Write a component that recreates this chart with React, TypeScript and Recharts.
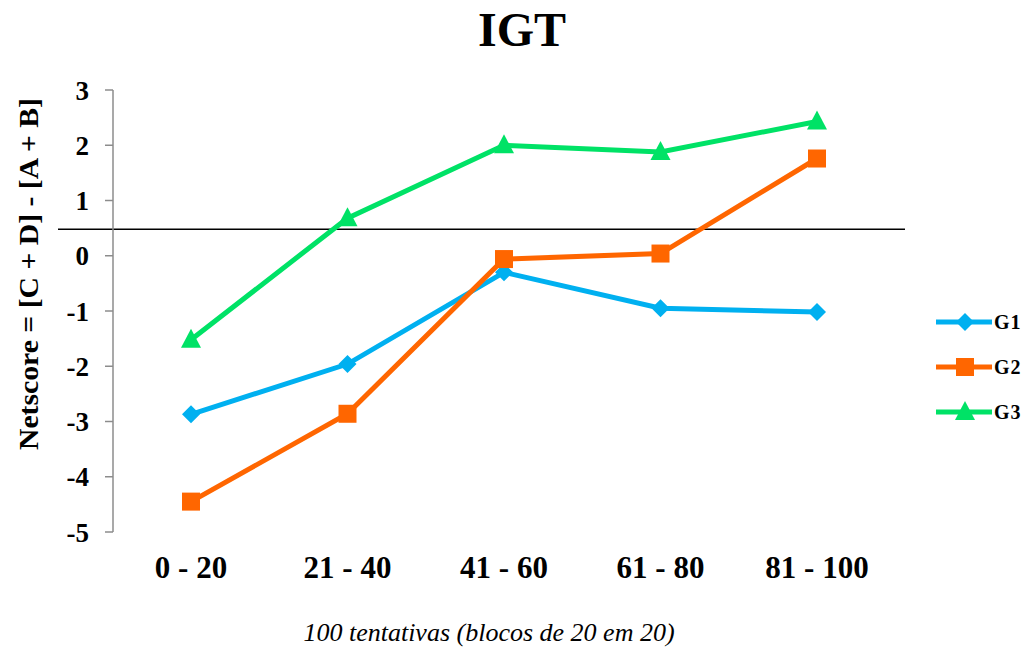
import { LineChart, Line, XAxis, YAxis, ReferenceLine } from "recharts";

const blocks = ["0 - 20", "21 - 40", "41 - 60", "61 - 80", "81 - 100"];
const g1 = [-2.87, -1.96, -0.3, -0.95, -1.02];
const g2 = [-4.45, -2.86, -0.06, 0.04, 1.76];
const g3 = [-1.52, 0.68, 2.0, 1.88, 2.43];
const seriesNames = ["G1", "G2", "G3"];
const yTicks = [-5, -4, -3, -2, -1, 0, 1, 2, 3];
const threshold = 0.48;

const data = blocks.map((b, i) => ({ block: b, G1: g1[i], G2: g2[i], G3: g3[i] }));

const serif = "'Liberation Serif', 'Times New Roman', serif";
const colors: Record<string, string> = { G1: "#00b0f0", G2: "#ff6600", G3: "#00e266" };

function Marker({ kind, cx, cy, fill }: { kind: string; cx: number; cy: number; fill: string }) {
  if (kind === "G1") {
    return <polygon points={`${cx},${cy - 9} ${cx + 9},${cy} ${cx},${cy + 9} ${cx - 9},${cy}`} fill={fill} />;
  }
  if (kind === "G2") {
    return <rect x={cx - 9} y={cy - 9} width={18} height={18} fill={fill} />;
  }
  return <polygon points={`${cx},${cy - 11} ${cx + 10},${cy + 8} ${cx - 10},${cy + 8}`} fill={fill} />;
}

const dotFor = (kind: string) => (props: any) => {
  const { cx, cy, key } = props;
  if (cx == null || cy == null) return <g key={key} />;
  return <Marker key={key} kind={kind} cx={cx} cy={cy} fill={colors[kind]} />;
};

function LegendBox() {
  return (
    <svg width={100} height={140} style={{ position: "absolute", left: 928, top: 300 }}>
      {seriesNames.map((name, i) => {
        const y = 22 + i * 45;
        return (
          <g key={name}>
            <line x1={8} x2={64} y1={y} y2={y} stroke={colors[name]} strokeWidth={5} />
            <Marker kind={name} cx={37} cy={y} fill={colors[name]} />
            <text x={66} y={y + 7} fontFamily={serif} fontWeight="bold" fontSize={20} letterSpacing={1} fill="#000">
              {name}
            </text>
          </g>
        );
      })}
    </svg>
  );
}

const refShape = (props: any) => {
  const { x1, y1, x2, y2 } = props;
  return <line x1={x1 - 55} y1={y1} x2={x2 + 10} y2={y2} stroke="#000" strokeWidth={1.5} />;
};

export default function App() {
  return (
    <div style={{ position: "absolute", left: 0, top: 0, width: 1031, height: 650, background: "#fff" }}>
      <div
        style={{
          position: "absolute",
          left: 0,
          width: 1044,
          top: 2,
          textAlign: "center",
          fontFamily: serif,
          fontWeight: "bold",
          fontSize: 48,
        }}
      >
        IGT
      </div>
      <LineChart width={1031} height={650} data={data} margin={{ top: 90, right: 136, bottom: 78, left: 0 }}>
        <XAxis
          dataKey="block"
          axisLine={false}
          tickLine={false}
          height={40}
          tickMargin={18}
          padding={{ left: 78, right: 78 }}
          tick={{ fontFamily: serif, fontWeight: "bold", fontSize: 31, fill: "#000" }}
        />
        <YAxis
          type="number"
          domain={[-5, 3]}
          ticks={yTicks}
          width={113}
          tickSize={8}
          tickMargin={16}
          axisLine={{ stroke: "#8c8c8c", strokeWidth: 1.5 }}
          tickLine={{ stroke: "#8c8c8c", strokeWidth: 1.5 }}
          tick={{ fontFamily: serif, fontWeight: "bold", fontSize: 27, fill: "#000" }}
          label={{
            content: () => (
              <text
                x={38}
                y={274}
                transform="rotate(-90 38 274)"
                textAnchor="middle"
                fontFamily={serif}
                fontWeight="bold"
                fontSize={27}
                textLength={352}
                lengthAdjust="spacingAndGlyphs"
                fill="#000"
              >
                Netscore = [C + D] - [A + B]
              </text>
            ),
          }}
        />
        <ReferenceLine y={threshold} shape={refShape} ifOverflow="visible" />
        <Line type="linear" dataKey="G1" name="G1" stroke={colors.G1} strokeWidth={5} dot={dotFor("G1")} isAnimationActive={false} />
        <Line type="linear" dataKey="G2" name="G2" stroke={colors.G2} strokeWidth={5} dot={dotFor("G2")} isAnimationActive={false} />
        <Line type="linear" dataKey="G3" name="G3" stroke={colors.G3} strokeWidth={5} dot={dotFor("G3")} isAnimationActive={false} />
      </LineChart>
      <LegendBox />
      <div
        style={{
          position: "absolute",
          left: 0,
          width: 978,
          top: 618,
          textAlign: "center",
          fontFamily: serif,
          fontStyle: "italic",
          fontSize: 26,
        }}
      >
        100 tentativas (blocos de 20 em 20)
      </div>
    </div>
  );
}
